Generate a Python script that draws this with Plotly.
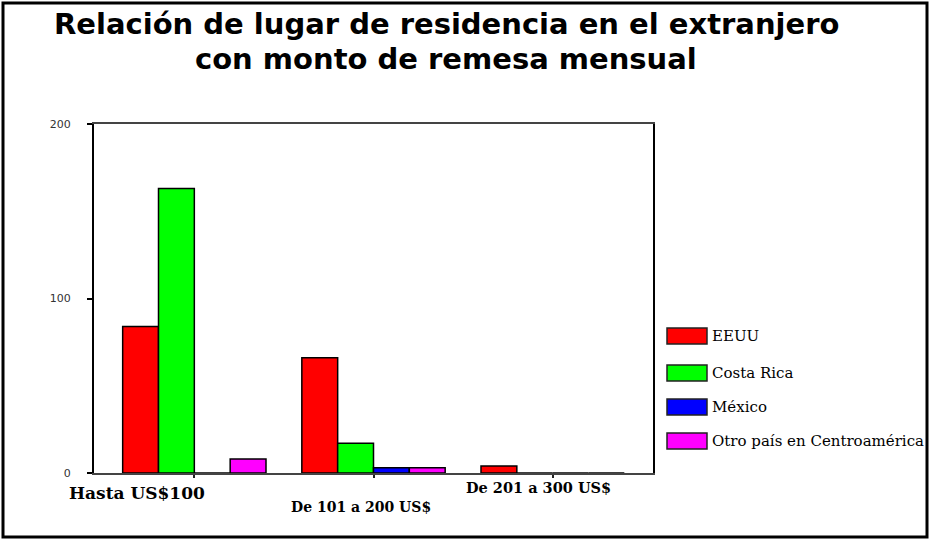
import plotly.graph_objects as go

categories = ["Hasta US$100", "De 101 a 200 US$", "De 201 a 300 US$"]
series_names = ["EEUU", "Costa Rica", "México", "Otro país en Centroamérica"]
eeuu = [84, 66, 4]
costa_rica = [163, 17, 0]
mexico = [0, 3, 0]
otro = [8, 3, 0]
colors = ["#ff0000", "#00ff00", "#0000ff", "#ff00ff"]
y_ticks = [0, 100, 200]

W, H = 930, 540
L, R, T, B = 94, 277, 124, 67
pw, ph = W - L - R, H - T - B


def px(x):
    return (x - L) / pw


def py(y):
    return (H - B - y) / ph


fig = go.Figure()
for name, vals, col in zip(series_names, [eeuu, costa_rica, mexico, otro], colors):
    fig.add_trace(go.Bar(
        x=categories, y=vals, name=name,
        marker=dict(color=col, line=dict(color="black", width=1.5)),
    ))

fig.update_layout(
    width=W, height=H,
    margin=dict(l=L, r=R, t=T, b=B),
    paper_bgcolor="white", plot_bgcolor="white",
    barmode="group", bargap=0.2, bargroupgap=0,
    showlegend=False,
    xaxis=dict(
        range=[-0.56, 2.56], showticklabels=False,
        ticks="outside", ticklen=3, tickwidth=2, tickcolor="#222",
        showline=True, linecolor="#444", linewidth=1.5, mirror=True,
        showgrid=False, zeroline=False,
    ),
    yaxis=dict(
        range=[0, 200], tickvals=y_ticks,
        ticks="outside", ticklen=5, tickwidth=2, tickcolor="black",
        tickfont=dict(family="DejaVu Sans", size=11, color="#333"),
        ticklabelstandoff=14,
        showline=True, linecolor="black", linewidth=2, mirror=True,
        showgrid=False, zeroline=False,
    ),
)

# title (two lines)
title_lines = ["Relación de lugar de residencia en el extranjero",
               "con monto de remesa mensual"]
for line, yc in zip(title_lines, [24, 59]):
    fig.add_annotation(
        text=line, xref="paper", yref="paper", x=px(446), y=py(yc),
        xanchor="center", yanchor="middle", showarrow=False,
        font=dict(family="DejaVu Sans", size=29, color="black", weight="bold"),
    )

# custom legend (wide swatches)
legend_y = [336, 373, 407, 441]
for name, col, yc in zip(series_names, colors, legend_y):
    fig.add_shape(type="rect", xref="paper", yref="paper",
                  x0=px(667), x1=px(707), y0=py(yc - 8), y1=py(yc + 8),
                  fillcolor=col, line=dict(color="#222", width=1.5))
    fig.add_annotation(
        text=name, xref="paper", yref="paper", x=px(710), y=py(yc),
        xanchor="left", yanchor="middle", showarrow=False,
        font=dict(family="DejaVu Serif", size=15, color="black"),
    )

# staggered category labels
label_pos = [(137, 493, 17), (361, 507, 14), (538, 487, 14.5)]
for cat, (xc, yc, fs) in zip(categories, label_pos):
    fig.add_annotation(
        text=f"<b>{cat}</b>", xref="paper", yref="paper", x=px(xc), y=py(yc),
        xanchor="center", yanchor="middle", showarrow=False,
        font=dict(family="DejaVu Serif", size=fs, color="black"),
    )

# outer frame
fig.add_shape(type="rect", xref="paper", yref="paper",
              x0=px(3), x1=px(927), y0=py(3), y1=py(537),
              line=dict(color="black", width=3), layer="above")

fig.write_html(
    "out.html",
    config={"displayModeBar": False},
    post_script="document.body.style.margin='0';document.body.style.overflow='hidden';",
)
